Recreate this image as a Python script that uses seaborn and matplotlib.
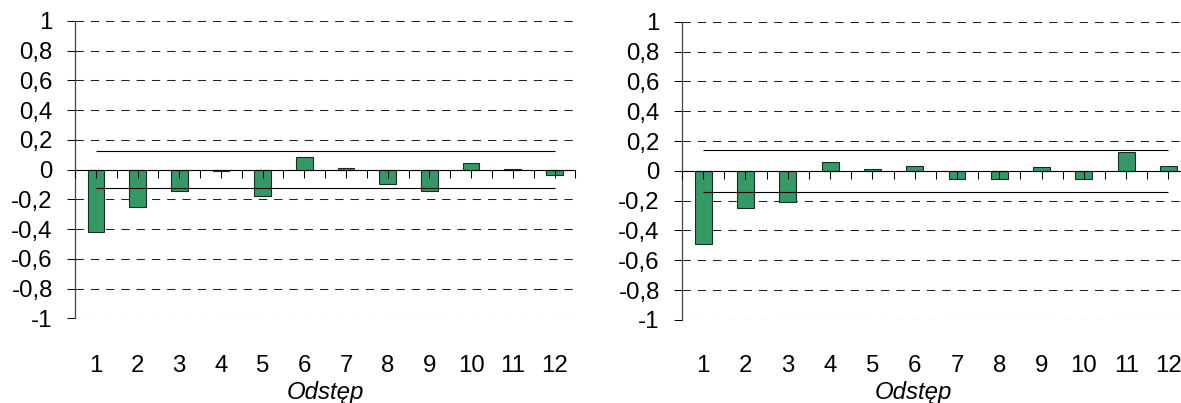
import numpy as np
import pandas as pd
import matplotlib
matplotlib.use("Agg")
import matplotlib.pyplot as plt
import seaborn as sns

# Autocorrelation coefficients for lags 1..12 (two series)
lags = list(range(1, 13))
acf_left = [-0.42, -0.25, -0.145, -0.006, -0.177, 0.088, 0.01, -0.094, -0.143, 0.045, 0.003, -0.038]
acf_right = [-0.49, -0.25, -0.21, 0.058, 0.009, 0.034, -0.056, -0.056, 0.025, -0.053, 0.124, 0.03]

# Significance bands (+/-)
band_left = 0.126
band_right = 0.143

y_ticks = [-1, -0.8, -0.6, -0.4, -0.2, 0, 0.2, 0.4, 0.6, 0.8, 1]
y_tick_labels = ["-1", "-0,8", "-0,6", "-0,4", "-0,2", "0", "0,2", "0,4", "0,6", "0,8", "1"]
x_label = "Odstęp"

BAR = "#339966"
EDGE = "#1f2a22"
FS = 17.3

sns.set_theme(style="white")
plt.rcParams["font.family"] = ["Liberation Sans", "DejaVu Sans"]
plt.rcParams["lines.scale_dashes"] = False

fig = plt.figure(figsize=(11.81, 4.03), dpi=100)
ax_l = fig.add_axes([0.0635, 0.2102, 0.4237, 0.7377])
ax_r = fig.add_axes([0.5775, 0.2060, 0.4298, 0.7402])


def draw_panel(ax, values, band, label_x, label_y, xpad):
    df = pd.DataFrame({"lag": [str(l) for l in lags], "acf": values})
    sns.barplot(data=df, x="lag", y="acf", color=BAR, saturation=1, width=0.4,
                edgecolor=EDGE, linewidth=0.8, ax=ax, zorder=2)

    ymin, ymax = y_ticks[0], y_ticks[-1]
    ax.set_ylim(ymin, ymax)
    ax.set_xlim(-0.5, len(lags) - 0.5)

    # dashed horizontal gridlines
    ax.set_yticks(y_ticks)
    ax.set_yticklabels(y_tick_labels)
    ax.yaxis.grid(True, color="#222222", linestyle=(0, (6, 5)), linewidth=0.75)
    ax.set_axisbelow(True)

    # significance band lines
    ax.hlines([band, -band], 0, len(lags) - 1, colors="black", linewidth=0.8, zorder=3)

    # category axis drawn through zero, on top of the bars
    zero_pos = (0 - ymin) / (ymax - ymin)
    sec = ax.secondary_xaxis(zero_pos)
    sec.set_zorder(5)
    sec.set_xticks(np.arange(-0.5, len(lags), 1.0))
    sec.set_xticks(np.arange(0, len(lags), 1.0), minor=True)
    sec.tick_params(which="both", direction="in", length=6, width=0.75,
                    color="black", labeltop=False, labelbottom=False, top=True, bottom=False)
    for sp in sec.spines.values():
        sp.set_color("black")
        sp.set_linewidth(0.8)

    # category labels below the plot area
    ax.set_xticks(range(len(lags)))
    ax.set_xticklabels([str(l) for l in lags])
    ax.tick_params(axis="x", length=0, pad=xpad, labelsize=FS, colors="black")
    ax.tick_params(axis="y", left=True, direction="out", length=6, width=0.75,
                   pad=10, labelsize=FS, colors="black")

    for side in ("top", "right", "bottom"):
        ax.spines[side].set_visible(False)
    ax.spines["left"].set_color("#444444")
    ax.spines["left"].set_linewidth(0.9)

    ax.set_ylabel("")
    ax.set_xlabel(x_label, fontsize=FS, fontstyle="italic", color="black")
    ax.xaxis.set_label_coords(label_x, label_y)
    ax.set_facecolor("white")


draw_panel(ax_l, acf_left, band_left, 0.5, -0.211, 26.4)
draw_panel(ax_r, acf_right, band_right, 0.455, -0.2045, 25.2)

fig.savefig("out.png", dpi=100, facecolor="white")
